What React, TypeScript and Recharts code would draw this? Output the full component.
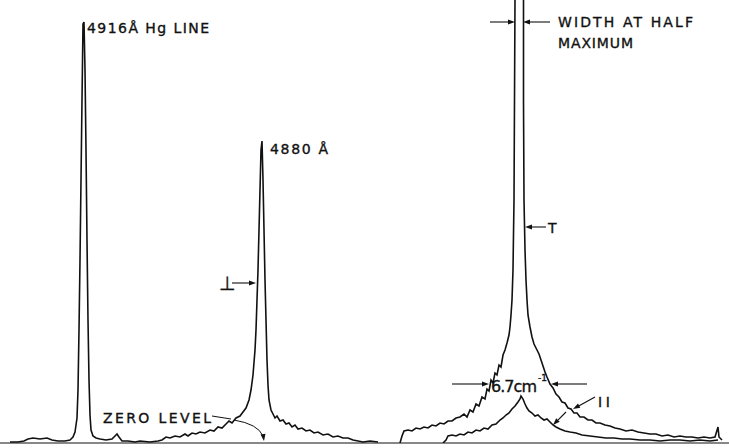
import { LineChart, Line, XAxis, YAxis } from 'recharts';

// perpendicular scan: 4916 Å Hg reference line + 4880 Å line
const perpX = [10, 18, 24, 28, 33, 40, 47, 52, 58, 65, 70, 73, 75, 77, 78, 79, 80, 81, 82, 83, 84, 85, 86, 87, 88, 89, 90, 91, 93, 96, 100, 106, 112, 115, 117, 119, 122, 128, 135, 140, 150, 158, 162, 166, 170, 175, 180, 185, 188, 192, 196, 200, 205, 210, 214, 218, 222, 226, 229, 232, 236, 240, 243, 246, 249, 251, 253, 255, 256, 257, 258, 259, 260, 261, 262, 263, 264, 265, 266, 267, 268, 269, 271, 273, 275, 277, 280, 283, 286, 289, 292, 295, 298, 302, 306, 310, 314, 318, 323, 328, 333, 338, 343, 348, 353, 358, 363, 370, 378];
const perpI = [1, 1, 2, 4, 5, 4, 5, 3, 2, 2, 3, 6, 11, 25, 53, 113, 183, 263, 343, 419, 421, 373, 293, 203, 123, 63, 28, 13, 7, 5, 4, 3, 4, 7, 9, 6, 2, 2, 1, 2, 1, 2, 3, 6, 5, 7, 6, 9, 7, 10, 9, 11, 10, 13, 12, 16, 15, 19, 22, 20, 25, 27, 31, 35, 43, 53, 68, 93, 113, 143, 173, 213, 253, 293, 302, 263, 213, 163, 123, 83, 58, 43, 33, 29, 25, 27, 22, 23, 19, 20, 16, 18, 14, 15, 12, 13, 10, 11, 8, 9, 6, 7, 5, 5, 3, 2, 1, 2, 1];

// T scan (peak runs off the top of the sheet)
const tX = [400, 402, 404, 408, 412, 416, 420, 424, 428, 432, 436, 440, 444, 448, 452, 456, 460, 464, 467, 470, 473, 476, 479, 482, 485, 487, 489, 491, 493, 495, 497, 499, 501, 503, 505, 507, 509, 510, 511, 512, 513, 514, 514.5, 515, 516, 519, 523, 523.5, 523.5, 524, 525, 526, 527, 528, 530, 532, 534, 537, 539, 541, 543, 545, 547, 550, 553, 556, 559, 562, 565, 568, 571, 574, 577, 580, 584, 588, 592, 596, 600, 605, 610, 615, 620, 626, 632, 638, 644, 650, 656, 662, 668, 674, 680, 686, 692, 698, 704, 710, 715, 718, 719, 722];
const tI = [0, 7, 12, 13, 12, 15, 14, 16, 15, 18, 17, 20, 19, 22, 22, 25, 26, 29, 26, 33, 31, 39, 37, 46, 44, 54, 52, 63, 60, 70, 68, 78, 76, 88, 93, 100, 108, 116, 128, 143, 173, 243, 343, 443, 463, 520, 463, 443, 343, 243, 193, 163, 143, 128, 116, 106, 99, 93, 89, 83, 77, 71, 66, 59, 55, 49, 46, 41, 40, 35, 34, 30, 30, 26, 26, 23, 23, 20, 20, 18, 17, 15, 14, 12, 13, 11, 10, 9, 9, 7, 8, 6, 7, 6, 6, 5, 6, 5, 6, 16, 6, 3];

// II scan
const iiX = [443, 446, 448, 452, 456, 460, 464, 468, 472, 476, 480, 484, 488, 492, 496, 500, 503, 506, 509, 512, 515, 518, 520, 521, 523, 525, 527, 529, 532, 535, 538, 541, 544, 547, 550, 553, 556, 560, 565, 570, 576, 582, 590, 598, 606, 614, 622, 630, 640, 650, 660, 670, 680, 690, 700, 710, 718];
const iiI = [0, 3, 7, 8, 7, 9, 8, 11, 10, 13, 12, 15, 14, 18, 19, 23, 25, 28, 30, 34, 37, 41, 44, 47, 44, 39, 35, 32, 30, 27, 28, 25, 23, 24, 21, 18, 16, 14, 12, 11, 10, 8, 7, 6, 5, 5, 4, 4, 3, 3, 2, 3, 3, 2, 3, 2, 3];

const toRows = (xs: number[], ys: number[]) => xs.map((x, i) => ({ x, v: ys[i] }));

const W = 729;
const H = 448;
const ink = '#111';
const font = '"DejaVu Sans", "Liberation Sans", sans-serif';

const Arrow = ({ x1, y1, x2, y2 }: { x1: number; y1: number; x2: number; y2: number }) => {
  const a = Math.atan2(y2 - y1, x2 - x1);
  const L = 7, w = 2.5;
  const bx = x2 - L * Math.cos(a), by = y2 - L * Math.sin(a);
  const px = -Math.sin(a) * w, py = Math.cos(a) * w;
  return (
    <g>
      <line x1={x1} y1={y1} x2={bx} y2={by} stroke={ink} strokeWidth={1.1} />
      <polygon points={`${x2},${y2} ${bx + px},${by + py} ${bx - px},${by - py}`} fill={ink} />
    </g>
  );
};

const T = ({ x, y, len, size = 13, children }: any) => (
  <text x={x} y={y} fontSize={size} fontFamily={font} fill={ink} stroke={ink} strokeWidth={0.35}
    textLength={len} lengthAdjust={len ? 'spacing' : undefined}>
    {children}
  </text>
);

const trace = { type: 'linear' as const, stroke: ink, strokeWidth: 1.6, dot: false, activeDot: false, isAnimationActive: false, dataKey: 'v' };

export default function App() {
  return (
    <div style={{ position: 'absolute', left: 0, top: 0, width: W, height: H, background: '#fff' }}>
      <LineChart width={W} height={H} margin={{ top: 0, right: 0, left: 0, bottom: 4 }}>
        <XAxis type="number" dataKey="x" domain={[0, W]} height={1} tick={false} tickLine={false}
          axisLine={{ stroke: ink, strokeWidth: 1 }} />
        <YAxis hide type="number" domain={[0, 443]} allowDataOverflow />
        <Line data={toRows(perpX, perpI)} {...trace} />
        <Line data={toRows(tX, tI)} {...trace} />
        <Line data={toRows(iiX, iiI)} {...trace} />
      </LineChart>
      <svg width={W} height={H} style={{ position: 'absolute', left: 0, top: 0, pointerEvents: 'none' }}>
        <T x={87} y={33} len={122} size={14}>4916Å  Hg  LINE</T>
        <T x={270} y={154} len={58} size={14}>4880 Å</T>
        <T x={219} y={290} size={19}>⊥</T>
        <Arrow x1={232} y1={283} x2={256} y2={283} />
        <T x={103} y={423} len={108} size={14}>ZERO  LEVEL</T>
        <line x1={212} y1={416} x2={231} y2={419} stroke={ink} strokeWidth={1} />
        <path d="M234,420 Q258,424 263,436" fill="none" stroke={ink} strokeWidth={1} />
        <Arrow x1={263} y1={434} x2={264} y2={441} />
        <Arrow x1={490} y1={22} x2={515} y2={22} />
        <Arrow x1={550} y1={22} x2={523} y2={22} />
        <T x={558} y={27} len={135} size={14}>WIDTH  AT  HALF</T>
        <T x={558} y={48} len={75} size={14}>MAXIMUM</T>
        <Arrow x1={546} y1={227} x2={525} y2={227} />
        <T x={548} y={233} size={14}>T</T>
        <Arrow x1={452} y1={384} x2={489} y2={384} />
        <Arrow x1={587} y1={384} x2={551} y2={384} />
        <T x={491} y={392} len={46} size={16}>6.7cm</T>
        <T x={538} y={381} size={9}>-1</T>
        <T x={598} y={407} len={12} size={14}>II</T>
        <Arrow x1={595} y1={397} x2={573} y2={409} />
        <Arrow x1={566} y1={412} x2={553} y2={425} />
      </svg>
    </div>
  );
}
